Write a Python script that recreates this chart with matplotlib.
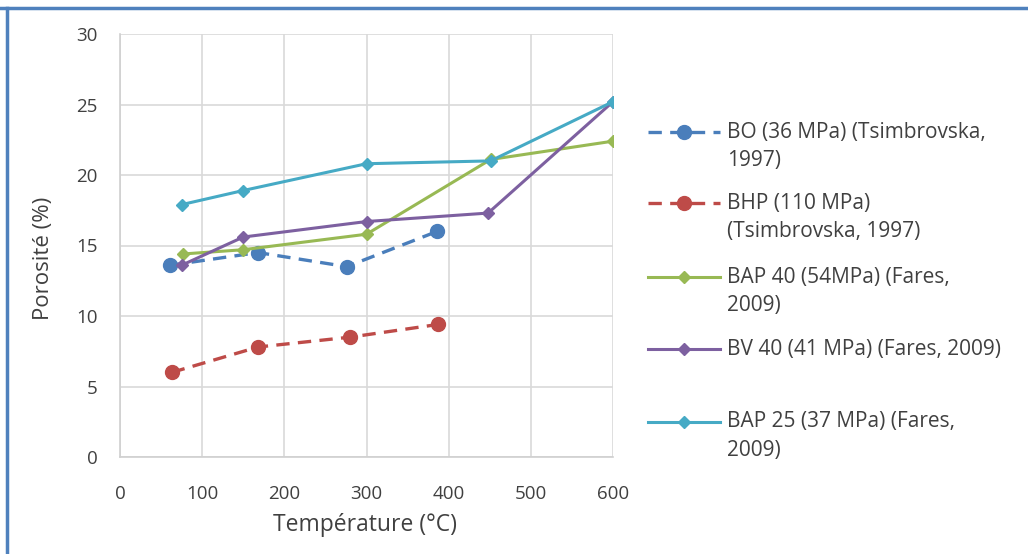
import matplotlib.pyplot as plt
from matplotlib.lines import Line2D

# donnees
bo_t = [61, 168, 276, 386]
bo_p = [13.6, 14.5, 13.5, 16.0]
bhp_t = [63, 168, 280, 387]
bhp_p = [6.0, 7.8, 8.5, 9.4]
bap40_t = [77, 150, 300, 451, 600]
bap40_p = [14.4, 14.7, 15.8, 21.1, 22.4]
bv40_t = [75, 150, 300, 448, 600]
bv40_p = [13.6, 15.6, 16.7, 17.3, 25.2]
bap25_t = [75, 150, 300, 451, 600]
bap25_p = [17.9, 18.9, 20.8, 21.0, 25.2]

noms = [["BO (36 MPa) (Tsimbrovska,", "1997)"],
        ["BHP (110 MPa)", "(Tsimbrovska, 1997)"],
        ["BAP 40 (54MPa) (Fares,", "2009)"],
        ["BV 40 (41 MPa) (Fares, 2009)"],
        ["BAP 25 (37 MPa) (Fares,", "2009)"]]

plt.rcParams['font.family'] = ['Open Sans', 'DejaVu Sans']
gris = '#404040'

fig = plt.figure(figsize=(10.28, 5.54), dpi=100)
W, H = 1028, 554
ax = fig.add_axes([120 / W, 1 - 457 / H, 493 / W, 423 / H])

styles = [dict(ls='--', marker='o', color='#4a7ebb', lw=2.4, ms=10, dashes=(4, 2.5)),
          dict(ls='--', marker='o', color='#be4b48', lw=2.4, ms=10, dashes=(4, 2.5)),
          dict(ls='-', marker='D', color='#98b954', lw=2.2, ms=6.5),
          dict(ls='-', marker='D', color='#7d60a0', lw=2.2, ms=6.5),
          dict(ls='-', marker='D', color='#46aac5', lw=2.2, ms=6.5)]
series = [(bo_t, bo_p), (bhp_t, bhp_p), (bap40_t, bap40_p), (bv40_t, bv40_p), (bap25_t, bap25_p)]

for (t, p), st in zip(series, styles):
    ax.plot(t, p, **st)

ax.set_xlim(0, 600)
ax.set_ylim(0, 30)
ax.set_xticks(range(0, 601, 100))
ax.set_yticks(range(0, 31, 5))
ax.grid(True, color='#d9d9d9', lw=1.2)
ax.set_axisbelow(True)
for s in ['top', 'right']:
    ax.spines[s].set_visible(False)
for s in ['left', 'bottom']:
    ax.spines[s].set_color('#d0d0d0')
    ax.spines[s].set_linewidth(1.2)
ax.tick_params(length=0, labelsize=13.5, colors=gris)
ax.tick_params(axis='y', pad=16)
ax.tick_params(axis='x', pad=20)
ax.set_xlabel("Température (°C)", fontsize=16.5, color=gris)
ax.set_ylabel("Porosité (%)", fontsize=16, color=gris)
ax.xaxis.set_label_coords(0.497, -0.132)
ax.yaxis.set_label_coords(-0.134, 0.47)

# legende dessinee a la main (espacement irregulier comme dans Excel)
leg_y = [132, 203, 277, 349, 422]
for lignes, st, y in zip(noms, styles, leg_y):
    yf = 1 - y / H
    fig.add_artist(Line2D([648 / W, 720 / W], [yf, yf], color=st['color'], lw=st['lw'],
                          ls=st['ls'], dashes=st.get('dashes', (None, None))))
    fig.add_artist(Line2D([684 / W], [yf], color=st['color'], marker=st['marker'],
                          ms=st['ms'], ls='none'))
    for k, txt in enumerate(lignes):
        fig.text(727 / W, 1 - (y + 28.5 * k) / H, txt, fontsize=15, color=gris,
                 ha='left', va='center')

# cadre bleu (haut et gauche)
fig.add_artist(Line2D([0, 1], [1 - 8 / H, 1 - 8 / H], color='#4f81bd', lw=2.5))
fig.add_artist(Line2D([7 / W, 7 / W], [0, 1 - 8 / H], color='#4f81bd', lw=2.5))

fig.savefig('out.png', dpi=100)
